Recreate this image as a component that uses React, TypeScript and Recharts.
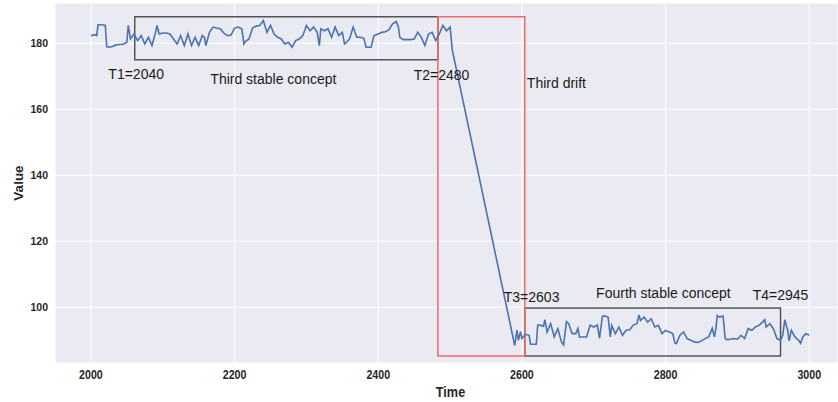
import { LineChart, Line, XAxis, YAxis, CartesianGrid, ReferenceArea, ReferenceDot } from 'recharts';

// [time, value]
const thirdStable: [number, number][] = [
  [2000, 182.3], [2005, 182.6], [2008, 182.3], [2010, 185.6], [2015, 185.6], [2020, 185.4], [2022, 179.0],
  [2025, 178.8], [2030, 179.0], [2035, 179.5], [2040, 179.6], [2045, 179.7], [2050, 180.3], [2052, 185.4],
  [2055, 181.3], [2060, 182.8], [2065, 180.8], [2070, 182.3], [2075, 179.8], [2080, 181.8], [2085, 179.3],
  [2090, 183.3], [2092, 185.4], [2095, 182.8], [2100, 183.1], [2105, 183.1], [2110, 182.8], [2115, 181.3],
  [2120, 179.8], [2125, 182.3], [2130, 179.3], [2135, 182.8], [2140, 179.3], [2145, 181.8], [2150, 179.3],
  [2155, 182.3], [2158, 181.8], [2160, 179.3], [2165, 183.3], [2170, 184.9], [2175, 184.6], [2180, 184.4],
  [2185, 183.1], [2190, 182.3], [2195, 182.5], [2200, 184.6], [2205, 184.9], [2210, 184.4], [2213, 179.8],
  [2215, 180.5], [2220, 181.3], [2225, 184.6], [2230, 185.2], [2235, 185.4], [2240, 186.9], [2245, 183.3],
  [2250, 185.4], [2255, 182.8], [2260, 181.8], [2265, 181.3], [2270, 179.8], [2275, 180.3], [2280, 178.8],
  [2285, 180.8], [2290, 181.3], [2295, 182.3], [2300, 185.4], [2305, 183.8], [2310, 184.9], [2315, 183.3],
  [2318, 179.3], [2320, 184.4], [2325, 183.8], [2330, 184.4], [2335, 181.8], [2340, 184.9], [2345, 182.3],
  [2350, 183.3], [2353, 179.8], [2355, 180.1], [2360, 181.3], [2365, 184.9], [2370, 181.8], [2375, 181.8],
  [2380, 181.5], [2383, 178.8], [2390, 178.8], [2394, 182.3], [2400, 182.8], [2405, 183.3], [2410, 183.5],
  [2415, 184.1], [2420, 185.9], [2425, 186.6], [2428, 185.0], [2430, 181.8], [2435, 181.1], [2440, 181.1],
  [2445, 181.1], [2450, 181.3], [2455, 183.3], [2460, 181.8], [2465, 179.3], [2470, 182.8], [2475, 183.3],
  [2480, 180.8], [2485, 182.8], [2490, 185.4], [2495, 183.8], [2500, 184.9],
];

const thirdDrift: [number, number][] = [
  [2503, 178.0],
];

const fourthStable: [number, number][] = [
  [2590, 88.4], [2593, 93.1], [2595, 90.0], [2598, 92.6], [2600, 90.5], [2605, 91.8], [2610, 91.5],
  [2612, 88.8], [2620, 88.8], [2622, 94.6], [2625, 94.6], [2630, 94.2], [2632, 96.2], [2635, 92.5],
  [2640, 95.0], [2645, 91.0], [2650, 93.5], [2655, 89.5], [2658, 88.6], [2662, 95.6], [2665, 95.0],
  [2670, 92.0], [2675, 92.0], [2678, 93.6], [2680, 91.0], [2685, 91.0], [2690, 91.0], [2695, 94.6],
  [2700, 94.0], [2705, 94.6], [2708, 90.6], [2712, 97.2], [2715, 97.4], [2720, 97.0], [2723, 91.0],
  [2725, 94.5], [2730, 92.0], [2735, 94.0], [2740, 91.5], [2745, 93.0], [2750, 93.2], [2755, 94.6],
  [2760, 95.0], [2763, 97.7], [2765, 96.0], [2770, 97.0], [2775, 95.5], [2780, 96.5], [2785, 94.0],
  [2790, 94.5], [2795, 92.0], [2800, 93.0], [2805, 92.5], [2810, 92.0], [2813, 89.1], [2815, 89.0],
  [2820, 91.5], [2825, 92.5], [2830, 90.5], [2835, 90.0], [2840, 89.5], [2845, 89.3], [2850, 89.8],
  [2855, 90.5], [2860, 91.0], [2865, 93.6], [2868, 91.0], [2870, 93.5], [2872, 97.5], [2875, 97.0],
  [2880, 97.3], [2883, 90.5], [2885, 90.2], [2890, 90.3], [2895, 90.5], [2900, 90.3], [2905, 91.5],
  [2910, 90.5], [2915, 93.5], [2920, 93.0], [2925, 94.0], [2930, 94.5], [2935, 95.5], [2938, 96.2],
  [2940, 94.0], [2945, 95.0], [2950, 93.5], [2955, 90.5], [2960, 90.0], [2963, 91.5], [2966, 96.2],
  [2970, 93.0], [2972, 89.8], [2975, 93.0], [2980, 91.0], [2985, 90.0], [2988, 89.1], [2991, 91.0],
  [2995, 92.0], [3000, 91.5],
];

const xTicks = [2000, 2200, 2400, 2600, 2800, 3000];
const yTicks = [100, 120, 140, 160, 180];

// concept / drift windows: time range and value range
const stableWindows = [
  { x1: 2061, x2: 2483, y1: 175, y2: 188 },
  { x1: 2604, x2: 2960, y1: 85.2, y2: 99.8 },
];
const driftWindows = [
  { x1: 2483, x2: 2604, y1: 85.2, y2: 188 },
];

const notes = [
  { text: 'T1=2040', t: 2063, v: 170.7 },
  { text: 'Third stable concept', t: 2254, v: 169.2 },
  { text: 'T2=2480', t: 2488, v: 170.4 },
  { text: 'Third drift', t: 2648, v: 168.0 },
  { text: 'T3=2603', t: 2613.5, v: 103.1 },
  { text: 'Fourth stable concept', t: 2797, v: 104.3 },
  { text: 'T4=2945', t: 2960, v: 103.7 },
];

const data = [...thirdStable, ...thirdDrift, ...fourthStable].map(([time, value]) => ({ time, value }));

const FONT = '"Liberation Sans", Arial, sans-serif';

// x tick labels in the reference are drawn in a narrow bold face
const NarrowTick = ({ x, y, payload }: any) => (
  <text
    transform={`translate(${x},${y}) scale(0.82,1)`}
    textAnchor="middle"
    dy="0.71em"
    fontSize={13}
    fontWeight="bold"
    fill="#262626"
    fontFamily={FONT}
  >
    {payload.value}
  </text>
);

const TimeLabel = ({ viewBox }: any) => (
  <text
    transform={`translate(${viewBox.x + viewBox.width / 2 + 4},${viewBox.y + viewBox.height - 5}) scale(0.82,1)`}
    textAnchor="middle"
    fontSize={15.5}
    fontWeight="bold"
    fill="#262626"
    fontFamily={FONT}
  >
    Time
  </text>
);

export default function App() {
  return (
    <div style={{ position: 'absolute', left: 0, top: 0, width: 838, height: 402, background: '#fff' }}>
      <LineChart width={838} height={402} data={data} margin={{ top: 3, right: 0, bottom: 0, left: 15 }}>
        <CartesianGrid stroke="#ffffff" strokeWidth={1.1} fill="#EAEAF2" fillOpacity={1} />
        <XAxis
          type="number"
          dataKey="time"
          domain={[1950, 3040]}
          ticks={xTicks}
          allowDataOverflow
          height={39}
          axisLine={false}
          tickLine={false}
          tickSize={0}
          tickMargin={7}
          tick={<NarrowTick />}
          label={<TimeLabel />}
        />
        <YAxis
          type="number"
          domain={[83.1, 192.2]}
          ticks={yTicks}
          allowDataOverflow
          width={40}
          axisLine={false}
          tickLine={false}
          tickSize={0}
          tickMargin={7}
          tick={{ fontSize: 10.5, fill: '#262626', fontWeight: 'bold', fontFamily: FONT }}
          label={{ value: 'Value', position: 'center', angle: -90, dx: -17, fontSize: 13.5, fill: '#262626', fontWeight: 'bold', fontFamily: FONT }}
        />
        <Line
          type="linear"
          dataKey="value"
          stroke="#4C72B0"
          strokeWidth={1.6}
          dot={false}
          isAnimationActive={false}
        />
        {stableWindows.map((w, i) => (
          <ReferenceArea key={'s' + i} x1={w.x1} x2={w.x2} y1={w.y1} y2={w.y2} fill="none" stroke="#555555" strokeWidth={1.5} ifOverflow="visible" />
        ))}
        {driftWindows.map((w, i) => (
          <ReferenceArea key={'d' + i} x1={w.x1} x2={w.x2} y1={w.y1} y2={w.y2} fill="none" stroke="#F06A6A" strokeWidth={1.5} ifOverflow="visible" />
        ))}
        {notes.map((n) => (
          <ReferenceDot
            key={n.text}
            x={n.t}
            y={n.v}
            r={0}
            fill="none"
            stroke="none"
            label={{ value: n.text, position: 'center', fontSize: 14, fill: '#1a1a1a', fontFamily: FONT }}
          />
        ))}
      </LineChart>
    </div>
  );
}
